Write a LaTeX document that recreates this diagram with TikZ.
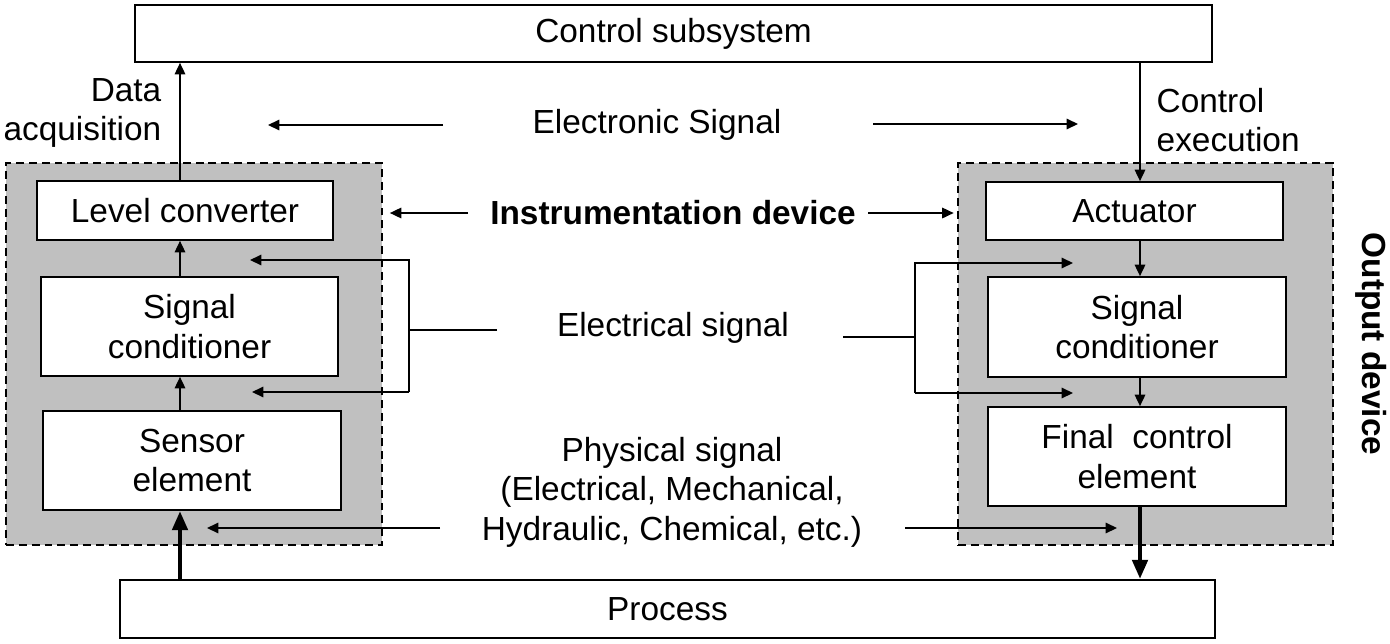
\documentclass[tikz,border=0pt]{standalone}
\usepackage{fontspec}
\setmainfont{Liberation Sans}
\usetikzlibrary{arrows.meta}
\definecolor{panel}{RGB}{192,192,192}

\begin{document}
\begin{tikzpicture}[x=0.02cm, y=-0.02cm, line width = 0.8pt,
  every node/.style={font=\fontsize{19pt}{22.5pt}\selectfont, align=center, inner sep=0pt},
  blk/.style={draw, fill=white, line width=1pt},
  grp/.style={draw, fill=panel, line width=1pt, dash pattern=on 4.5pt off 2.8pt},
  sig/.style={-{Triangle[length=6.5pt,width=6pt]}},
  flow/.style={line width=2.8pt, -{Triangle[length=11pt,width=8.5pt]}}]

\useasboundingbox (0,0) rectangle (1390,643);

\node [blk, minimum width=21.54cm, minimum height=1.14cm] (ctrl) at (673.5,33.5) {Control subsystem};
\node [blk, minimum width=21.9cm, minimum height=1.16cm] (proc) at (667.5,609) {Process};

\node [grp, minimum width=7.52cm, minimum height=7.64cm] (ingrp) at (194,354) {};
\node [grp, minimum width=7.5cm, minimum height=7.64cm] (outgrp) at (1145.5,354) {};

\node [blk, minimum width=5.92cm, minimum height=1.18cm] (lvl) at (185,210.5) {Level converter};
\node [blk, minimum width=5.94cm, minimum height=1.98cm] (condin) at (189.5,326.5) {Signal\\conditioner};
\node [blk, minimum width=5.96cm, minimum height=1.98cm] (sensor) at (192,460.5) {Sensor\\element};

\node [blk, minimum width=5.94cm, minimum height=1.16cm] (act) at (1134.5,211) {Actuator};
\node [blk, minimum width=5.96cm, minimum height=2cm] (condout) at (1137,327) {Signal\\conditioner};
\node [blk, minimum width=5.96cm, minimum height=1.98cm] (final) at (1137,456.5) {Final\ \ control\\element};

\node [font=\fontsize{19pt}{22.5pt}\selectfont\bfseries, rotate=-90] (outdev) at (1371,344) {Output device};

\node [anchor=east, align=right] (acq) at (162,113) {Data\\acquisition};
\node [anchor=west, align=left] (exe) at (1156,120) {Control\\execution};

\node (elsig) at (657,125) {Electronic Signal};
\node [font=\fontsize{19pt}{22.5pt}\selectfont\bfseries] (inst) at (673,213) {Instrumentation device};
\node (elec) at (673,328) {Electrical signal};
\node (phys) at (672,492) {Physical signal\\(Electrical, Mechanical,\\Hydraulic, Chemical, etc.)};

\coordinate (lx) at (180,0);
\coordinate (rx) at (1140,0);

\draw[sig] (lx |- lvl.north) -- (lx |- ctrl.south);
\draw[sig] (lx |- condin.north) -- (lx |- lvl.south);
\draw[sig] (lx |- sensor.north) -- (lx |- condin.south);
\draw[flow] (lx |- proc.north) -- (lx |- sensor.south);

\draw[sig] (rx |- ctrl.south) -- (rx |- act.north);
\draw[sig] (rx |- act.south) -- (rx |- condout.north);
\draw[sig] (rx |- condout.south) -- (rx |- final.north);
\draw[flow] (rx |- final.south) -- (rx |- proc.north);

\coordinate (esL) at (443,125);
\coordinate (esLt) at (268,125);
\coordinate (esR) at (873,124);
\coordinate (esRt) at (1078,124);
\draw[sig] (esL) -- (esLt);
\draw[sig] (esR) -- (esRt);

\coordinate (inL) at (468,213);
\coordinate (inR) at (868,213);
\draw[sig, shorten >=4pt] (inL) -- (ingrp.east |- inL);
\draw[sig, shorten >=2pt] (inR) -- (outgrp.west |- inR);

\coordinate (elL) at (497,330);
\coordinate (elLt) at (250,260);
\coordinate (elLb) at (252,392);
\draw (elL) -- (409,330);
\draw[sig] (409,392) -- (409,260) -- (elLt);
\draw[sig] (409,392) -- (elLb);

\coordinate (elR) at (843,337);
\coordinate (elRt) at (1073,263);
\coordinate (elRb) at (1073,393);
\draw (elR) -- (915,337);
\draw[sig] (915,393) -- (915,263) -- (elRt);
\draw[sig] (915,393) -- (elRb);

\coordinate (phL) at (440,528);
\coordinate (phLt) at (207,528);
\coordinate (phR) at (905,528);
\coordinate (phRt) at (1117,528);
\draw[sig] (phL) -- (phLt);
\draw[sig] (phR) -- (phRt);

\end{tikzpicture}
\end{document}
